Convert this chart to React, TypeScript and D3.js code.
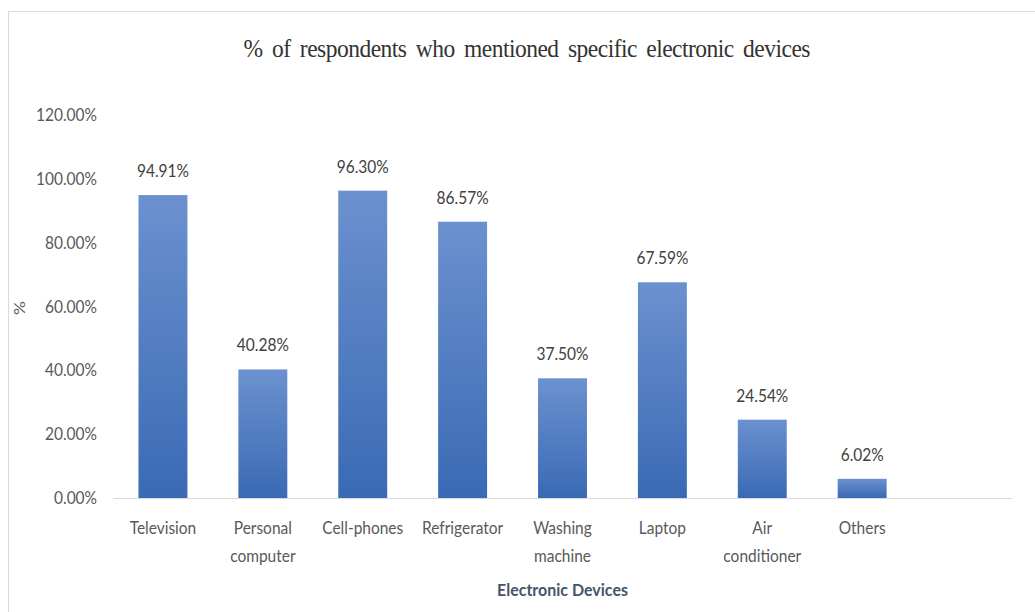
import React, { useEffect, useRef } from "react";
import * as d3 from "d3";

const categories: string[][] = [
  ["Television"],
  ["Personal", "computer"],
  ["Cell-phones"],
  ["Refrigerator"],
  ["Washing", "machine"],
  ["Laptop"],
  ["Air", "conditioner"],
  ["Others"],
];
const values: number[] = [0.9491, 0.4028, 0.963, 0.8657, 0.375, 0.6759, 0.2454, 0.0602];
const yTicks: number[] = [0, 0.2, 0.4, 0.6, 0.8, 1.0, 1.2];
const title = "% of respondents who mentioned specific electronic devices";
const xTitle = "Electronic Devices";
const yTitle = "%";

const W = 1035;
const H = 612;
const STRETCH = 1.12;
const FS = 15.5;

export default function App() {
  const ref = useRef<SVGSVGElement | null>(null);

  useEffect(() => {
    const svg = d3.select(ref.current);
    svg.selectAll("*").remove();

    const keys = categories.map((c) => c.join(" "));
    const domain = [...keys, "__empty__"];
    const x = d3
      .scaleBand<string>()
      .domain(domain)
      .range([113, 1012])
      .paddingInner(0.51)
      .paddingOuter(0.255);
    const y = d3.scaleLinear().domain([0, 1.2]).range([498, 115]);

    const defs = svg.append("defs");
    const grad = defs
      .append("linearGradient")
      .attr("id", "barGrad")
      .attr("x1", 0)
      .attr("y1", 0)
      .attr("x2", 0)
      .attr("y2", 1);
    grad.append("stop").attr("offset", "0%").attr("stop-color", "#6b91cf");
    grad.append("stop").attr("offset", "100%").attr("stop-color", "#3a6ab5");

    // chart border
    svg
      .append("rect")
      .attr("x", 8.5)
      .attr("y", 11.5)
      .attr("width", W + 10)
      .attr("height", H + 10)
      .attr("fill", "none")
      .attr("stroke", "#d9d9d9")
      .attr("stroke-width", 1);

    // title
    svg
      .append("text")
      .attr("transform", `translate(527,57) scale(1,1.1)`)
      .attr("text-anchor", "middle")
      .attr("font-family", "'Liberation Serif', 'Times New Roman', serif")
      .attr("font-size", 23.5)
      .attr("word-spacing", 4)
      .attr("fill", "#333333")
      .attr("textLength", 567)
      .attr("lengthAdjust", "spacing")
      .text(title);

    // y axis
    const yAxis = d3
      .axisLeft(y)
      .tickValues(yTicks)
      .tickSize(0)
      .tickPadding(0)
      .tickFormat((d) => ((d as number) * 100).toFixed(2) + "%");
    const yg = svg.append("g").attr("transform", "translate(97,0)").call(yAxis);
    yg.select(".domain").remove();
    yg.selectAll("text")
      .attr("font-family", "Lato, sans-serif")
      .attr("font-size", FS)
      .attr("fill", "#595959")
      .attr("x", 0)
      .attr("dy", "0.32em")
      .attr("transform", `scale(1,${STRETCH})`);

    // bars
    svg
      .append("g")
      .selectAll("rect")
      .data(values)
      .join("rect")
      .attr("x", (_, i) => x(keys[i]) as number)
      .attr("y", (d) => y(d))
      .attr("width", x.bandwidth())
      .attr("height", (d) => y(0) - y(d))
      .attr("fill", "url(#barGrad)");

    // x axis line
    const xAxis = d3.axisBottom(x).tickSize(0).tickFormat(() => "");
    const xg = svg.append("g").attr("transform", `translate(0,${y(0)})`).call(xAxis);
    xg.select(".domain").attr("stroke", "#d9d9d9").attr("stroke-width", 1.2);
    xg.selectAll(".tick").remove();

    // x labels
    const lab = svg.append("g");
    categories.forEach((lines, i) => {
      const cx = (x(keys[i]) as number) + x.bandwidth() / 2;
      lines.forEach((ln, j) => {
        lab
          .append("text")
          .attr("transform", `translate(${cx},${534 + j * 28}) scale(1,${STRETCH})`)
          .attr("text-anchor", "middle")
          .attr("font-family", "Lato, sans-serif")
          .attr("font-size", FS)
          .attr("fill", "#595959")
          .text(ln);
      });
    });

    // data labels
    svg
      .append("g")
      .selectAll("text")
      .data(values)
      .join("text")
      .attr(
        "transform",
        (d, i) =>
          `translate(${(x(keys[i]) as number) + x.bandwidth() / 2},${y(d) - 18}) scale(1,${STRETCH})`
      )
      .attr("text-anchor", "middle")
      .attr("font-family", "Lato, sans-serif")
      .attr("font-size", FS)
      .attr("fill", "#404040")
      .text((d) => (d * 100).toFixed(2) + "%");

    // x title
    svg
      .append("text")
      .attr("transform", `translate(${(113 + 1012) / 2},596) scale(1,${STRETCH})`)
      .attr("text-anchor", "middle")
      .attr("font-family", "Lato, sans-serif")
      .attr("font-weight", "bold")
      .attr("font-size", 16)
      .attr("fill", "#44546a")
      .text(xTitle);

    // y title
    svg
      .append("text")
      .attr("transform", `translate(25,308) rotate(-90) scale(${STRETCH},1)`)
      .attr("text-anchor", "middle")
      .attr("font-family", "Lato, sans-serif")
      .attr("font-size", FS)
      .attr("fill", "#595959")
      .text(yTitle);
  }, []);

  return (
    <svg
      ref={ref}
      width={W}
      height={H}
      style={{ position: "absolute", left: 0, top: 0, background: "#fff" }}
    />
  );
}
